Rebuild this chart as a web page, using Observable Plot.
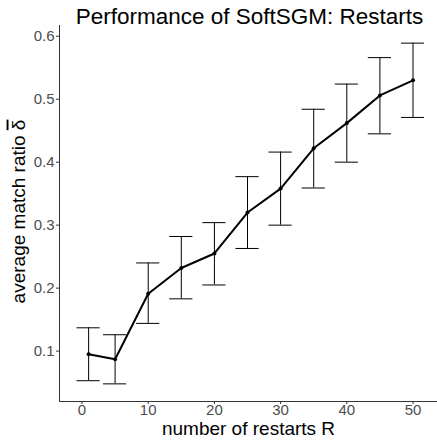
<!DOCTYPE html>
<html>
<head>
<meta charset="utf-8">
<script src="https://cdn.jsdelivr.net/npm/d3@7"></script>
<script src="https://cdn.jsdelivr.net/npm/@observablehq/plot@0.6"></script>
<style>
  body { margin: 0; background: #fff; }
  svg { font-family: "Liberation Sans", Arial, sans-serif; }
</style>
</head>
<body>
<div id="chart"></div>
<script>
const restarts = [1, 5, 10, 15, 20, 25, 30, 35, 40, 45, 50];
const meanRatio = [0.095, 0.087, 0.191, 0.232, 0.255, 0.320, 0.358, 0.422, 0.462, 0.506, 0.530];
const lower = [0.053, 0.048, 0.144, 0.183, 0.205, 0.263, 0.300, 0.359, 0.400, 0.445, 0.471];
const upper = [0.137, 0.126, 0.240, 0.282, 0.304, 0.377, 0.416, 0.484, 0.524, 0.566, 0.589];
const xTicks = [0, 10, 20, 30, 40, 50];
const yTicks = [0.1, 0.2, 0.3, 0.4, 0.5, 0.6];
const title = "Performance of SoftSGM: Restarts";
const xLabel = "number of restarts R";
const yLabelMain = "average match ratio ";
const yLabelSym = "\u03B4";

const data = restarts.map((r, i) => ({r, m: meanRatio[i], lo: lower[i], hi: upper[i]}));
const capHalf = 1.75;
const xDomain = [-3.4, 53.7];
const yDomain = [0.020, 0.617];

const chart = Plot.plot({
  width: 437,
  height: 444,
  marginTop: 25,
  marginBottom: 43,
  marginLeft: 59,
  marginRight: 0,
  style: {fontFamily: "Liberation Sans, Arial, sans-serif", background: "#fff"},
  x: {domain: xDomain, axis: null},
  y: {domain: yDomain, axis: null},
  marks: [
    Plot.ruleX(data, {x: "r", y1: "lo", y2: "hi", stroke: "#000", strokeWidth: 1}),
    Plot.ruleY(data, {y: "hi", x1: d => d.r - capHalf, x2: d => d.r + capHalf, stroke: "#000", strokeWidth: 1}),
    Plot.ruleY(data, {y: "lo", x1: d => d.r - capHalf, x2: d => d.r + capHalf, stroke: "#000", strokeWidth: 1}),
    Plot.line(data, {x: "r", y: "m", stroke: "#000", strokeWidth: 2}),
    Plot.dot(data, {x: "r", y: "m", r: 2, fill: "#000", stroke: "none"}),
    Plot.ruleX([xDomain[0]], {stroke: "#333", strokeWidth: 1}),
    Plot.ruleY([yDomain[0]], {stroke: "#333", strokeWidth: 1}),
    Plot.axisX(xTicks, {tickSize: 3, tickPadding: 0, fontSize: 15, color: "#4d4d4d", stroke: "#333", label: null, anchor: "bottom"}),
    Plot.axisY(yTicks, {tickSize: 3, tickPadding: 2, fontSize: 15, color: "#4d4d4d", stroke: "#333", label: null, anchor: "left", tickFormat: d => d.toFixed(1)}),
    Plot.text([title], {frameAnchor: "top", lineAnchor: "middle", dx: 1, dy: -9, fontSize: 22.5, fill: "#000", text: d => d}),
    Plot.text([xLabel], {frameAnchor: "bottom", lineAnchor: "middle", dy: 27, fontSize: 19, fill: "#000", text: d => d}),
    Plot.text([yLabelMain + yLabelSym], {frameAnchor: "left", textAnchor: "middle", lineAnchor: "middle", dx: -41, dy: -2, rotate: -90, fontSize: 19, fill: "#000", text: d => d, className: "ylab"})
  ]
});
// put an overline on the delta symbol (δ̄), keeping it real text
d3.select(chart).selectAll(".ylab text").each(function() {
  const t = d3.select(this);
  t.text(null);
  t.append("tspan").text(yLabelMain);
  t.append("tspan").style("text-decoration", "overline").text(yLabelSym);
});
document.getElementById("chart").appendChild(chart);
</script>
</body>
</html>
